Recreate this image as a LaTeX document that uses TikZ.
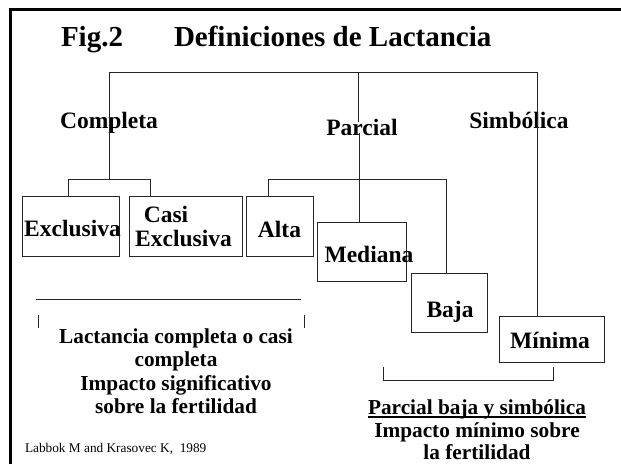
\documentclass[tikz,border=0pt]{standalone}
\usepackage{fontspec}
\setmainfont{Liberation Serif}
\begin{document}
\begin{tikzpicture}[x=1pt,y=-1pt,
  every node/.style={inner sep=0pt,outer sep=0pt},
  conn/.style={draw=black!85,line width=0.9pt},
  boxn/.style={draw=black!85,line width=0.9pt,rectangle,minimum width=#1},
  ttl/.style={font=\fontsize{29}{31}\selectfont\bfseries,anchor=base west},
  cat/.style={font=\fontsize{23.5}{25}\selectfont\bfseries,anchor=base},
  note/.style={font=\fontsize{21.3}{23}\selectfont\bfseries,anchor=base},
  refn/.style={font=\fontsize{13.3}{15}\selectfont,anchor=base west}]
\useasboundingbox (0,0) rectangle (621,464);
% frame
\coordinate (fa) at (10.5,464);
\coordinate (fb) at (10.5,9.5);
\coordinate (fc) at (621,9.5);
\draw[line width=3pt] (fa) -- (fb) -- (fc);
% title
\node[ttl] (fig) at (61,46) {Fig.2};
\node[ttl] (title) at (174,46) {Definiciones de Lactancia};
% category labels
\node[cat] (completa) at (109,128) {Completa};
\node[cat] (parcial) at (362,135) {Parcial};
\node[cat] (simbolica) at (519,128) {Simbólica};
% boxes
\node[boxn=97pt,minimum height=60pt] (exc) at (70.5,226) {};
\node[boxn=113pt,minimum height=60pt] (casi) at (185.5,226) {};
\node[boxn=67pt,minimum height=60pt] (alta) at (279.5,226) {};
\node[boxn=89pt,minimum height=59pt] (med) at (361.5,251.5) {};
\node[boxn=76pt,minimum height=59pt] (baja) at (449,302.5) {};
\node[boxn=105pt,minimum height=46pt] (min) at (551.5,339) {};
% box texts
\node[cat] (excT) at (72.5,236) {Exclusiva};
\node[cat] (casiT1) at (166,222) {Casi};
\node[cat] (casiT2) at (183.5,246) {Exclusiva};
\node[cat] (altaT) at (279.5,237) {Alta};
\node[cat] (medT) at (369,262) {Mediana};
\node[cat] (bajaT) at (450,317) {Baja};
\node[cat] (minT) at (550,348) {Mínima};
% tree connectors
\coordinate (tl) at (109,72);
\coordinate (tm) at (358,72);
\coordinate (tr) at (537,72);
\coordinate (pm) at (358,122);
\coordinate (cj) at (109,179);
\coordinate (cl) at (68,179);
\coordinate (cr) at (150,179);
\coordinate (pl) at (268,179);
\coordinate (pr) at (446,179);
\coordinate (ps) at (359,133);
\draw[conn] (tl) -- (tr);
\draw[conn] (tm) -- (pm);
\draw[conn] (tl) -- (cj);
\draw[conn] (tr) -- (tr |- min.north);
\draw[conn] (cl) -- (cr);
\draw[conn] (cl) -- (cl |- exc.north);
\draw[conn] (cr) -- (cr |- casi.north);
\draw[conn] (ps) -- (ps |- med.north);
\draw[conn] (pl) -- (pr);
\draw[conn] (pl) -- (pl |- alta.north);
\draw[conn] (pr) -- (pr |- baja.north);
% left bracket
\coordinate (la) at (36,299);
\coordinate (lb) at (301,299);
\coordinate (lt1) at (38,315);
\coordinate (lt2) at (38,328);
\coordinate (lt3) at (304,315);
\coordinate (lt4) at (304,328);
\draw[conn] (la) -- (lb);
\draw[conn] (lt1) -- (lt2);
\draw[conn] (lt3) -- (lt4);
% right bracket
\coordinate (ra) at (383,367);
\coordinate (rb) at (383,380);
\coordinate (rc) at (553,380);
\coordinate (rd) at (553,367);
\draw[conn] (ra) -- (rb) -- (rc) -- (rd);
% notes
\node[note] (n1) at (176,343) {Lactancia completa o casi};
\node[note] (n2) at (176,366) {completa};
\node[note] (n3) at (176,390) {Impacto significativo};
\node[note] (n4) at (176,413) {sobre la fertilidad};
\node[note] (m1) at (477,414) {Parcial baja y simbólica};
\draw[line width=1.2pt] ([yshift=-3pt]m1.base west) -- ([yshift=-3pt]m1.base east);
\node[note] (m2) at (477,437) {Impacto mínimo sobre};
\node[note] (m3) at (477,459) {la fertilidad};
\node[refn] (ref) at (25,452) {Labbok M and Krasovec K,\ \ 1989};
\end{tikzpicture}
\end{document}
